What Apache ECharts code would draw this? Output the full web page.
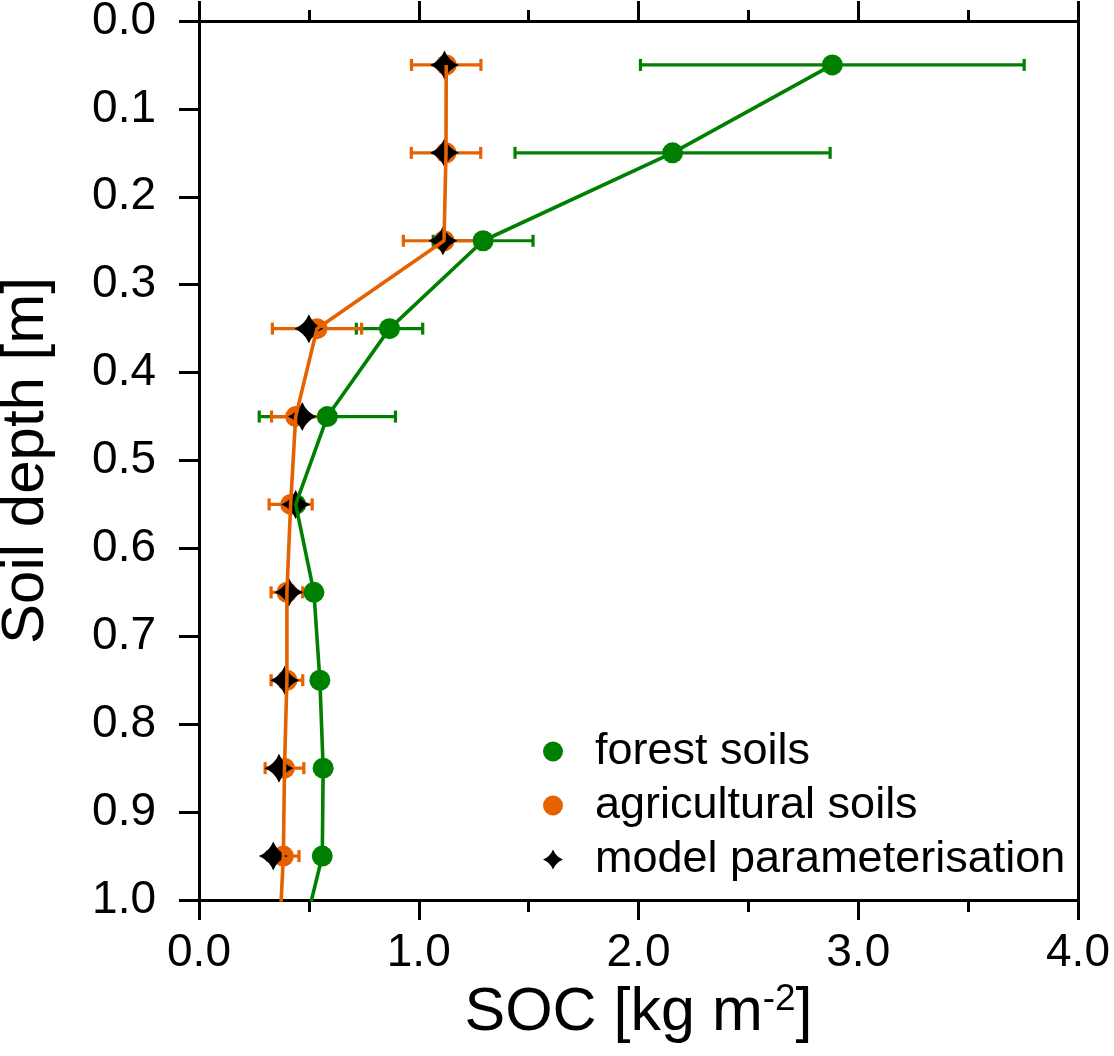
<!DOCTYPE html>
<html>
<head>
<meta charset="utf-8">
<script src="https://cdn.jsdelivr.net/npm/echarts@6/dist/echarts.min.js"></script>
<style>
  html, body { margin: 0; padding: 0; background: #fff; }
  #chart { width: 1114px; height: 1056px; }
</style>
</head>
<body>
<div id="chart"></div>
<script>
// soil depth of each layer [m]
var depths = [0.05, 0.15, 0.25, 0.35, 0.45, 0.55, 0.65, 0.75, 0.85, 0.95];
// forest soils SOC [kg m-2] and error half-widths (only top layers have bars)
var forestSoc = [2.882, 2.155, 1.293, 0.867, 0.584, 0.44, 0.523, 0.55, 0.565, 0.561];
var forestErr = [0.873, 0.717, 0.227, 0.151, 0.31];
// agricultural soils
var agriSoc = [1.125, 1.124, 1.115, 0.537, 0.44, 0.417, 0.40, 0.40, 0.389, 0.384];
var agriErr = [0.158, 0.158, 0.185, 0.203, 0.11, 0.098, 0.072, 0.072, 0.088, 0.071];
// model parameterisation
var modelSoc = [1.117, 1.117, 1.11, 0.50, 0.47, 0.44, 0.409, 0.39, 0.364, 0.338];
// the profile lines carry on below the plotted depth range
var extraDepth = 1.05;
var forestExtra = 0.463;
var agriExtra = 0.364;

var xTicks = [0, 1, 2, 3, 4];
var yTicks = [0, 0.1, 0.2, 0.3, 0.4, 0.5, 0.6, 0.7, 0.8, 0.9, 1.0];

var GREEN = '#008000';
var ORANGE = '#e66100';
var FONT = 'Liberation Sans, Arial, sans-serif';
var STAR = 'path://M0,-14 Q4,-4 14,0 Q4,4 0,14 Q-4,4 -14,0 Q-4,-4 0,-14 Z';

function pairs(xs, extra) {
  var out = xs.map(function (v, i) { return [v, depths[i]]; });
  if (extra != null) out.push([extra, extraDepth]);
  return out;
}
function errData(xs, errs) {
  return errs.map(function (e, i) { return [xs[i] - e, xs[i] + e, depths[i]]; });
}
function errSeries(name, color, data) {
  return {
    name: name,
    type: 'custom',
    data: data,
    encode: { x: [0, 1], y: 2 },
    silent: true,
    renderItem: function (params, api) {
      var lo = api.coord([api.value(0), api.value(2)]);
      var hi = api.coord([api.value(1), api.value(2)]);
      var h = 6;
      var st = { stroke: color, lineWidth: 3.2 };
      return {
        type: 'group',
        children: [
          { type: 'line', shape: { x1: lo[0], y1: lo[1], x2: hi[0], y2: hi[1] }, style: st },
          { type: 'line', shape: { x1: lo[0], y1: lo[1] - h, x2: lo[0], y2: lo[1] + h }, style: st },
          { type: 'line', shape: { x1: hi[0], y1: hi[1] - h, x2: hi[0], y2: hi[1] + h }, style: st }
        ]
      };
    }
  };
}

var chart = echarts.init(document.getElementById('chart'), null, { renderer: 'canvas' });

var axisLine = { show: true, onZero: false, lineStyle: { color: '#000', width: 3 } };
var tickStyle = { color: '#000', width: 3 };

chart.setOption({
  animation: false,
  backgroundColor: '#fff',
  textStyle: { fontFamily: FONT },
  grid: {
    left: 199, right: 36, top: 21, bottom: 156,
    containLabel: false, outerBoundsMode: 'none'
  },
  legend: {
    orient: 'vertical',
    left: 538,
    top: 724,
    itemWidth: 56,
    itemHeight: 20,
    itemGap: 9,
    selectedMode: false,
    textStyle: { fontSize: 45, color: '#000', fontFamily: FONT, padding: [0, 0, 0, 9] },
    data: [
      { name: 'forest soils', icon: 'circle', itemStyle: { color: GREEN } },
      { name: 'agricultural soils', icon: 'circle', itemStyle: { color: ORANGE } },
      { name: 'model parameterisation', icon: STAR, itemStyle: { color: '#000' } }
    ]
  },
  xAxis: [
    {
      type: 'value', position: 'bottom',
      min: xTicks[0], max: xTicks[xTicks.length - 1], interval: 1,
      axisLine: axisLine,
      axisTick: { show: true, inside: false, length: 20, lineStyle: tickStyle },
      minorTick: { show: true, splitNumber: 2, length: 12, lineStyle: tickStyle },
      splitLine: { show: false },
      axisLabel: {
        margin: 30, fontSize: 46, color: '#000', fontFamily: FONT,
        formatter: function (v) { return v.toFixed(1); }
      },
      name: '{a|SOC [kg m}{b|-2}{a|]}',
      nameLocation: 'middle',
      nameGap: 76,
      nameTextStyle: {
        rich: {
          a: { fontSize: 61, color: '#000', fontFamily: FONT },
          b: { fontSize: 37, color: '#000', fontFamily: FONT, padding: [0, 0, 28, 0] }
        }
      }
    },
    {
      type: 'value', position: 'top',
      min: xTicks[0], max: xTicks[xTicks.length - 1], interval: 1,
      axisLine: axisLine,
      axisTick: { show: true, inside: false, length: 20, lineStyle: tickStyle },
      minorTick: { show: true, splitNumber: 2, length: 11, lineStyle: tickStyle },
      splitLine: { show: false },
      axisLabel: { show: false }
    }
  ],
  yAxis: [
    {
      type: 'value', position: 'left', inverse: true,
      min: yTicks[0], max: yTicks[yTicks.length - 1], interval: 0.1,
      axisLine: axisLine,
      axisTick: { show: true, inside: false, length: 20, lineStyle: tickStyle },
      splitLine: { show: false },
      axisLabel: {
        margin: 43, fontSize: 46, color: '#000', fontFamily: FONT,
        formatter: function (v) { return v.toFixed(1); }
      },
      name: 'Soil depth [m]',
      nameLocation: 'middle',
      nameGap: 143,
      nameTextStyle: { fontSize: 60, color: '#000', fontFamily: FONT }
    },
    {
      type: 'value', position: 'right', inverse: true,
      min: yTicks[0], max: yTicks[yTicks.length - 1], interval: 0.1,
      axisLine: axisLine,
      axisTick: { show: false },
      splitLine: { show: false },
      axisLabel: { show: false }
    }
  ],
  series: [
    {
      name: 'forest line', type: 'line', data: pairs(forestSoc, forestExtra),
      showSymbol: false, clip: true, silent: true,
      lineStyle: { color: GREEN, width: 3.6 }
    },
    errSeries('forest err', GREEN, errData(forestSoc, forestErr)),
    {
      name: 'forest soils', type: 'scatter', data: pairs(forestSoc),
      symbol: 'circle', symbolSize: 21, itemStyle: { color: GREEN, opacity: 1 }
    },
    {
      name: 'agri line', type: 'line', data: pairs(agriSoc, agriExtra),
      showSymbol: false, clip: true, silent: true,
      lineStyle: { color: ORANGE, width: 3.6 }
    },
    errSeries('agri err', ORANGE, errData(agriSoc, agriErr)),
    {
      name: 'agricultural soils', type: 'scatter', data: pairs(agriSoc),
      symbol: 'circle', symbolSize: 21, itemStyle: { color: ORANGE, opacity: 1 }
    },
    {
      name: 'model parameterisation', type: 'scatter', data: pairs(modelSoc),
      symbol: STAR, symbolSize: 29, itemStyle: { color: '#000', opacity: 1 }
    }
  ]
});
</script>
</body>
</html>
